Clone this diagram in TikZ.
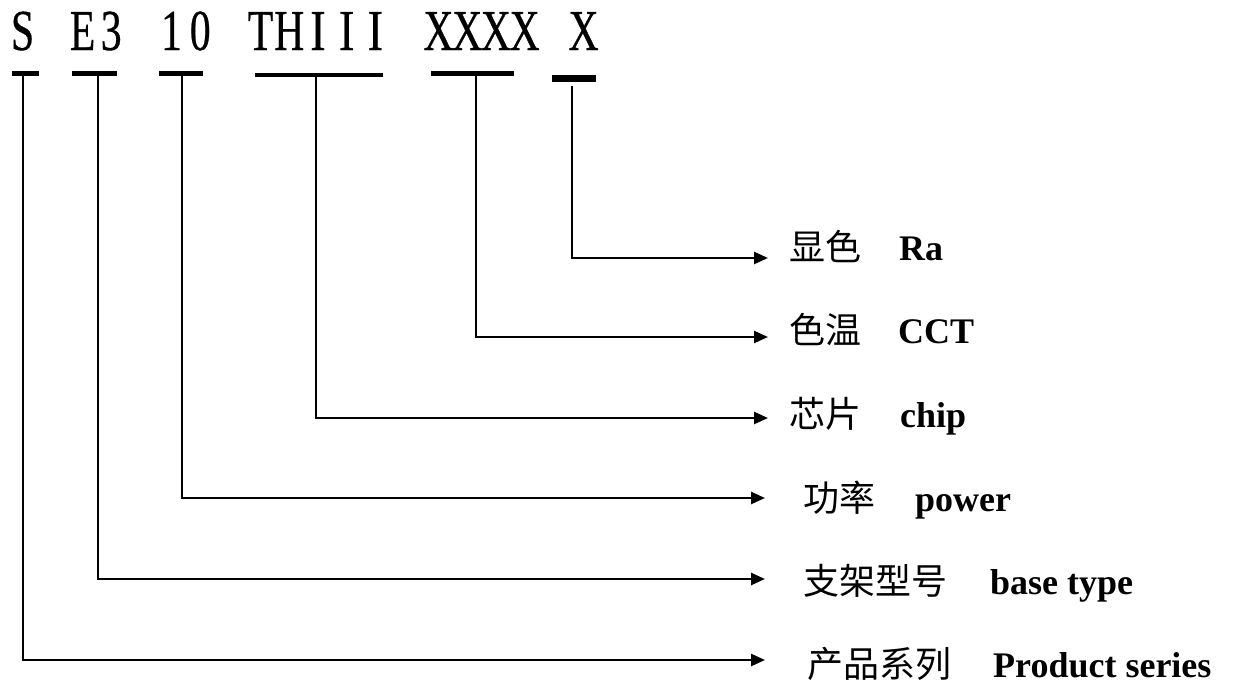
\documentclass[tikz,border=0pt]{standalone}
\usepackage{fontspec}
\setmainfont{Liberation Serif}
\newfontfamily\cjk{Noto Sans CJK SC}
\newfontfamily\codefont[FakeBold=0.6]{Liberation Serif}
\newcommand\mchar[2][0.72]{\makebox[28.7pt]{\scalebox{#1}[1]{#2}}}
\usetikzlibrary{arrows.meta}
\begin{document}
\begin{tikzpicture}[x=1pt,y=-1pt,
  code/.style={anchor=base west,inner sep=0pt,font=\codefont\fontsize{58}{62}\selectfont},
  bar/.style={line width=4.5pt},
  xbar/.style={line width=7pt},
  conn/.style={line width=2.5pt,-{Triangle[length=14pt,width=12pt]}},
  zh/.style={anchor=base west,inner sep=0pt,font=\cjk\fontsize{36}{40}\selectfont},
  en/.style={anchor=base west,inner sep=0pt,font=\bfseries\fontsize{36}{40}\selectfont}]
\useasboundingbox (0,0) rectangle (1238,688);
% code text
\node[code] (cS)  at (8,50)   {\mchar{S}};
\node[code] (cE)  at (68,50)  {\mchar{E}\mchar{3}};
\node[code] (cP)  at (157,50) {\mchar{1}\mchar{0}};
\node[code] (cT)  at (246,50) {\mchar{T}\mchar{H}\mchar[0.8]{I}\mchar[0.8]{I}\mchar[0.8]{I}};
\node[code] (cXX) at (424,50) {\mchar{X}\mchar{X}\mchar{X}\mchar{X}};
\node[code] (cX)  at (569,50) {\mchar{X}};
% underline bars
\draw[bar] (12,73.5) -- (39,73.5);
\draw[bar] (72,73.5) -- (117,73.5);
\draw[bar] (159,73.5) -- (203,73.5);
\draw[bar] (255,75) -- (383,75);
\draw[bar] (431,73.5) -- (514,73.5);
\draw[xbar] (552,78.5) -- (596,78.5);
% connector starts
\coordinate (bS)  at (23,73.5);
\coordinate (bE)  at (98,73.5);
\coordinate (bP)  at (182,73.5);
\coordinate (bT)  at (316,75);
\coordinate (bXX) at (476,73.5);
\coordinate (bX)  at (572,86);
% connector ends
\coordinate (eRa)   at (768,258);
\coordinate (eCCT)  at (768,337);
\coordinate (eChip) at (768,418);
\coordinate (ePow)  at (765,498);
\coordinate (eBase) at (765,579);
\coordinate (eProd) at (765,660);
% labels
\node[zh] (zRa)   at (789,260) {显色};
\node[en] (tRa)   at (899,260) {Ra};
\node[zh] (zCCT)  at (789,343) {色温};
\node[en] (tCCT)  at (898,343) {CCT};
\node[zh] (zChip) at (789,427) {芯片};
\node[en] (tChip) at (900,427) {chip};
\node[zh] (zPow)  at (803,511) {功率};
\node[en] (tPow)  at (915,511) {power};
\node[zh] (zBase) at (803,594) {支架型号};
\node[en] (tBase) at (990,594) {base type};
\node[zh] (zProd) at (807,677) {产品系列};
\node[en] (tProd) at (993,677) {Product series};
% connectors
\draw[conn] (bX)  |- (eRa);
\draw[conn] (bXX) |- (eCCT);
\draw[conn] (bT)  |- (eChip);
\draw[conn] (bP)  |- (ePow);
\draw[conn] (bE)  |- (eBase);
\draw[conn] (bS)  |- (eProd);
\end{tikzpicture}
\end{document}
